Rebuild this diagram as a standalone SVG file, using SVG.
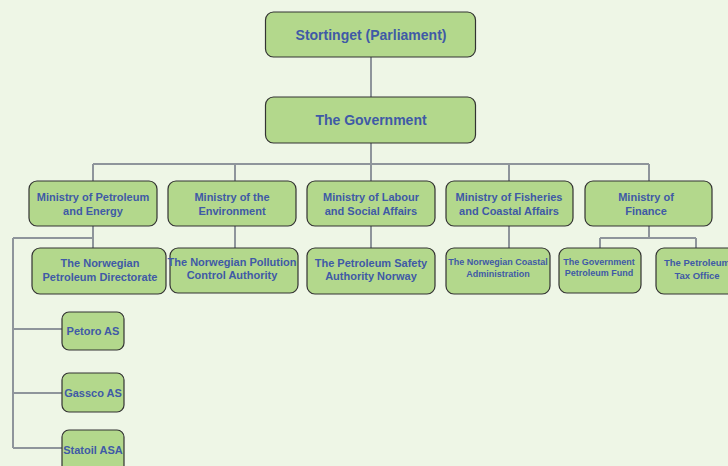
<svg xmlns="http://www.w3.org/2000/svg" width="728" height="466" viewBox="0 0 728 466">
<style>
.b{fill:#b3d88c;stroke:#333;stroke-width:1.2}
.t{font-family:"Liberation Sans",Arial,sans-serif;font-weight:bold;fill:#3f5aa6;text-anchor:middle}
.c{fill:none;stroke:#8e959b;stroke-width:2}
</style>
<rect width="728" height="466" fill="#eef6e6"/>
<g id="connectors" class="c">
<path d="M371 57V97M371 143V164M93 164H649M93 164V181M235 164V181M371 164V181M509 164V181M649 164V181"/>
<path d="M93 226V248M13 238H93M13 238V448M13 329H62M13 393H62M13 448H62"/>
<path d="M235 226V248M371 226V248M509 226V248"/>
<path d="M649 226V238M600 238H696M600 238V248M696 238V248"/>
</g>
<g id="n1"><rect class="b" x="265.5" y="12" width="210" height="45" rx="8"/><text class="t" x="371" y="40" font-size="14">Stortinget (Parliament)</text></g>
<g id="n2"><rect class="b" x="265.5" y="97" width="210" height="46" rx="8"/><text class="t" x="371" y="125" font-size="14">The Government</text></g>
<g id="m1"><rect class="b" x="29" y="181" width="128" height="45" rx="8"/><text class="t" x="93" font-size="11"><tspan x="93" y="201">Ministry of Petroleum</tspan><tspan x="93" y="215">and Energy</tspan></text></g>
<g id="m2"><rect class="b" x="168" y="181" width="128" height="45" rx="8"/><text class="t" x="232" font-size="11"><tspan x="232" y="201">Ministry of the</tspan><tspan x="232" y="215">Environment</tspan></text></g>
<g id="m3"><rect class="b" x="307" y="181" width="128" height="45" rx="8"/><text class="t" x="371" font-size="11"><tspan x="371" y="201">Ministry of Labour</tspan><tspan x="371" y="215">and Social Affairs</tspan></text></g>
<g id="m4"><rect class="b" x="446" y="181" width="127" height="45" rx="8"/><text class="t" x="509" font-size="11"><tspan x="509" y="201">Ministry of Fisheries</tspan><tspan x="509" y="215">and Coastal Affairs</tspan></text></g>
<g id="m5"><rect class="b" x="585" y="181" width="127" height="45" rx="8"/><text class="t" x="646" font-size="11"><tspan x="646" y="201">Ministry of</tspan><tspan x="646" y="215">Finance</tspan></text></g>
<g id="c1"><rect class="b" x="32" y="248" width="134" height="46" rx="8"/><text class="t" x="100" font-size="11"><tspan x="100" y="267">The Norwegian</tspan><tspan x="100" y="281">Petroleum Directorate</tspan></text></g>
<g id="c2"><rect class="b" x="170" y="248" width="128" height="45" rx="8"/><text class="t" x="232" font-size="11"><tspan x="232" y="266">The Norwegian Pollution</tspan><tspan x="232" y="279">Control Authority</tspan></text></g>
<g id="c3"><rect class="b" x="307" y="248" width="128" height="46" rx="8"/><text class="t" x="371" font-size="11"><tspan x="371" y="267">The Petroleum Safety</tspan><tspan x="371" y="280">Authority Norway</tspan></text></g>
<g id="c4"><rect class="b" x="446" y="248" width="104" height="46" rx="8"/><text class="t" x="498" font-size="9"><tspan x="498" y="265">The Norwegian Coastal</tspan><tspan x="498" y="277">Administration</tspan></text></g>
<g id="c5"><rect class="b" x="559" y="248" width="82" height="45" rx="8"/><text class="t" x="599" font-size="9"><tspan x="599" y="265">The Government</tspan><tspan x="599" y="276">Petroleum Fund</tspan></text></g>
<g id="c6"><rect class="b" x="656" y="248" width="84" height="46" rx="8"/><text class="t" x="697" font-size="9.5"><tspan x="697" y="266">The Petroleum</tspan><tspan x="697" y="279">Tax Office</tspan></text></g>
<g id="s1"><rect class="b" x="62" y="312" width="62" height="38" rx="7"/><text class="t" x="93" y="335" font-size="11">Petoro AS</text></g>
<g id="s2"><rect class="b" x="62" y="373" width="62" height="39" rx="7"/><text class="t" x="93" y="397" font-size="11">Gassco AS</text></g>
<g id="s3"><rect class="b" x="62" y="430" width="62" height="44" rx="7"/><text class="t" x="93" y="454" font-size="11">Statoil ASA</text></g>
</svg>
